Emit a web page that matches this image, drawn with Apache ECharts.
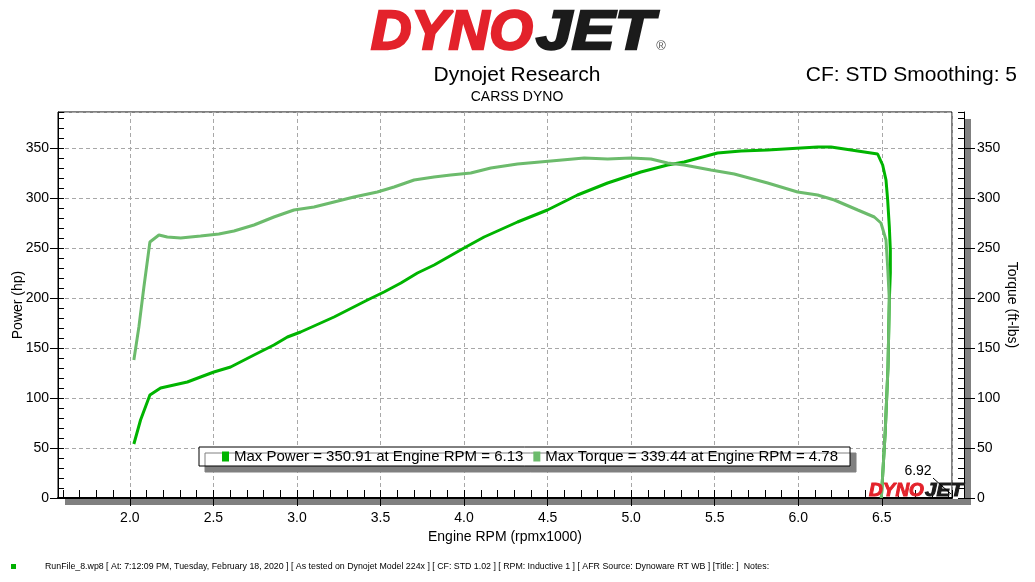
<!DOCTYPE html>
<html><head><meta charset="utf-8">
<script src="https://cdn.jsdelivr.net/npm/echarts@6/dist/echarts.min.js"></script>
<style>html,body{margin:0;padding:0;background:#fff;}#c{width:1035px;height:582px;}</style>
</head><body><div id="c"></div>
<script>
// ---- data ----
const rpmMin = 1.57, rpmMax = 6.92;
const yMax = 386;
const powerRpm = [2.024,2.064,2.120,2.184,2.344,2.423,2.503,2.603,2.743,2.862,2.943,3.022,3.222,3.422,3.521,3.622,3.721,3.821,4.000,4.120,4.320,4.499,4.679,4.859,5.058,5.218,5.317,5.517,5.657,5.817,6.016,6.116,6.196,6.316,6.475,6.505,6.525,6.535,6.545,6.551,6.551,6.545,6.537,6.520,6.497];
const powerHp  = [54,78,103,110,116,121,126,131,143,153,161,166,181,198,206,215,225,233,250,261,276,288,303,315,326,333,336,345,347,348,350,351,351,348,344,333,318,298,271,248,225,198,131,65,0];
const torqueRpm = [2.024,2.054,2.084,2.120,2.174,2.224,2.304,2.423,2.533,2.623,2.743,2.862,2.982,3.102,3.222,3.341,3.481,3.581,3.701,3.820,3.920,4.040,4.160,4.320,4.520,4.719,4.859,4.998,5.118,5.218,5.317,5.477,5.617,5.817,5.996,6.116,6.216,6.356,6.455,6.495,6.525,6.535,6.545,6.537,6.520,6.497];
const torqueFt  = [138,171,211,256,263,261,260,262,264,267,273,281,288,291,296,301,306,311,318,321,323,325,330,334,337,340,339,340,339,335,333,328,324,315,306,303,298,288,281,275,258,231,198,131,65,0];
const maxPower = 350.91, maxPowerRpm = 6.13;
const maxTorque = 339.44, maxTorqueRpm = 4.78;
const titleText = 'Dynojet Research';
const subTitleText = 'CARSS DYNO';
const cfText = 'CF: STD Smoothing: 5';
const footerText = 'RunFile_8.wp8 [ At: 7:12:09 PM, Tuesday, February 18, 2020 ] [ As tested on Dynojet Model 224x ] [ CF: STD 1.02 ] [ RPM: Inductive 1 ] [ AFR Source: Dynoware RT WB ] [Title: ]  Notes:';

// ---- chart ----
const F = 'Liberation Sans, Arial, sans-serif';
const POWER_C = '#00b400', TORQUE_C = '#6cbb6c';
const RED = '#e3222b', BLK = '#1b1b1b';
const zip = (a, b) => a.map((v, i) => [v, b[i]]);
const legendText = {
  Power: 'Max Power = ' + maxPower.toFixed(2) + ' at Engine RPM = ' + maxPowerRpm.toFixed(2),
  Torque: 'Max Torque = ' + maxTorque.toFixed(2) + ' at Engine RPM = ' + maxTorqueRpm.toFixed(2)
};
const dash = {color: '#a8a8a8', type: [4, 3], width: 1};
const chart = echarts.init(document.getElementById('c'), null, {renderer: 'canvas'});
chart.setOption({
  animation: false,
  backgroundColor: '#fff',
  textStyle: {fontFamily: F},
  grid: {left: 58, right: 83, top: 112, bottom: 84, show: true, borderColor: '#000', borderWidth: 1, backgroundColor: 'transparent', containLabel: false, outerBoundsMode: 'none'},
  legend: {
    left: 199, top: 447, orient: 'horizontal', icon: 'rect', itemWidth: 7, itemHeight: 10, itemGap: 10,
    padding: [2, 12, 2, 23], borderColor: '#000', borderWidth: 1, backgroundColor: '#fff',
    shadowColor: '#808080', shadowOffsetX: 6, shadowOffsetY: 6, shadowBlur: 0,
    selectedMode: false,
    textStyle: {fontSize: 15, color: '#000', fontFamily: F},
    formatter: n => legendText[n],
    data: ['Power', 'Torque']
  },
  xAxis: [
    {type: 'value', min: rpmMin, max: rpmMax, splitNumber: 10, position: 'bottom',
     axisLine: {onZero: false, lineStyle: {color: '#000', width: 2}},
     axisTick: {inside: false, length: 8, lineStyle: {color: '#000'}},
     axisLabel: {showMinLabel: false, showMaxLabel: false, formatter: v => v.toFixed(1), fontSize: 14, color: '#000', margin: 13, fontFamily: F},
     splitLine: {show: true, lineStyle: dash},
     name: 'Engine RPM (rpmx1000)', nameLocation: 'middle', nameGap: 31,
     nameTextStyle: {fontSize: 14, color: '#000', fontFamily: F}},
    {type: 'value', min: rpmMin, max: rpmMax, splitNumber: 50, position: 'bottom',
     axisLine: {show: false, onZero: false}, axisTick: {inside: true, length: 8, lineStyle: {color: '#000'}},
     axisLabel: {show: false}, splitLine: {show: false}}
  ],
  yAxis: [
    {type: 'value', min: 0, max: yMax, splitNumber: 8, position: 'left',
     axisLine: {show: true, onZero: false, lineStyle: {color: '#000'}},
     axisTick: {inside: false, length: 8, lineStyle: {color: '#000'}},
     axisLabel: {showMaxLabel: false, fontSize: 14, color: '#000', margin: 9, fontFamily: F},
     splitLine: {show: true, lineStyle: dash},
     name: 'Power (hp)', nameLocation: 'middle', nameGap: 33, nameMoveOverlap: false,
     nameTextStyle: {fontSize: 14, color: '#000', fontFamily: F}},
    {type: 'value', min: 0, max: yMax, splitNumber: 8, position: 'right', offset: 12,
     axisLine: {show: true, onZero: false, lineStyle: {color: '#000'}},
     axisTick: {inside: false, length: 11, lineStyle: {color: '#000'}},
     axisLabel: {showMaxLabel: false, fontSize: 14, color: '#000', margin: 13, fontFamily: F},
     splitLine: {show: false},
     name: 'Torque (ft-lbs)', nameLocation: 'middle', nameGap: 41, nameRotate: -90, nameMoveOverlap: false,
     nameTextStyle: {fontSize: 14, color: '#000', fontFamily: F}},
    {type: 'value', min: 0, max: yMax, splitNumber: 39, position: 'left',
     axisLine: {show: false, onZero: false}, axisTick: {inside: true, length: 6, lineStyle: {color: '#000'}},
     axisLabel: {show: false}, splitLine: {show: false}},
    {type: 'value', min: 0, max: yMax, splitNumber: 39, position: 'right', offset: 12,
     axisLine: {show: false, onZero: false}, axisTick: {inside: true, length: 6, lineStyle: {color: '#000'}},
     axisLabel: {show: false}, splitLine: {show: false}}
  ],
  series: [
    {name: 'Power', type: 'line', xAxisIndex: 0, yAxisIndex: 0, data: zip(powerRpm, powerHp),
     showSymbol: false, symbol: 'none', lineStyle: {color: POWER_C, width: 3}, itemStyle: {color: POWER_C}, z: 3},
    {name: 'Torque', type: 'line', xAxisIndex: 0, yAxisIndex: 1, data: zip(torqueRpm, torqueFt),
     showSymbol: false, symbol: 'none', lineStyle: {color: TORQUE_C, width: 3}, itemStyle: {color: TORQUE_C}, z: 4}
  ],
  graphic: [
    // shadows of the plot frame
    {type: 'rect', z: -10, silent: true, shape: {x: 65, y: 499, width: 906, height: 6}, style: {fill: '#808080'}},
    {type: 'rect', z: -10, silent: true, shape: {x: 965, y: 119, width: 6, height: 386}, style: {fill: '#808080'}},
    // big logo
    {type: 'text', x: 371, y: 34, silent: true, style: {text: 'DYNO', fill: RED, stroke: RED, lineWidth: 2.5, fontSize: 56, fontWeight: 900, fontStyle: 'italic', fontFamily: F, textAlign: 'left', textVerticalAlign: 'middle'}},
    {type: 'text', x: 536, y: 34, scaleX: 1.15, silent: true, style: {text: 'JET', fill: BLK, stroke: BLK, lineWidth: 2.5, fontSize: 56, fontWeight: 900, fontStyle: 'italic', fontFamily: F, textAlign: 'left', textVerticalAlign: 'middle'}},
    {type: 'text', x: 661, y: 46, silent: true, style: {text: '\u00ae', fill: '#555', fontSize: 13, fontFamily: F, textAlign: 'center', textVerticalAlign: 'middle'}},
    // titles
    {type: 'text', x: 517, y: 75, silent: true, style: {text: titleText, fill: '#000', fontSize: 21, fontFamily: F, textAlign: 'center', textVerticalAlign: 'middle'}},
    {type: 'text', x: 517, y: 97, silent: true, style: {text: subTitleText, fill: '#000', fontSize: 14, fontFamily: F, textAlign: 'center', textVerticalAlign: 'middle'}},
    {type: 'text', x: 1017, y: 75, silent: true, style: {text: cfText, fill: '#000', fontSize: 21, fontFamily: F, textAlign: 'right', textVerticalAlign: 'middle'}},
    // small logo in plot
    {type: 'text', x: 869, y: 491, z: 10, silent: true, style: {text: 'DYNO', fill: RED, stroke: RED, lineWidth: 1, fontSize: 19, fontWeight: 900, fontStyle: 'italic', fontFamily: F, textAlign: 'left', textVerticalAlign: 'middle'}},
    {type: 'text', x: 925, y: 491, z: 10, scaleX: 1.1, silent: true, style: {text: 'JET', fill: BLK, stroke: BLK, lineWidth: 1, fontSize: 19, fontWeight: 900, fontStyle: 'italic', fontFamily: F, textAlign: 'left', textVerticalAlign: 'middle'}},
    // max rpm marker
    {type: 'text', x: 918, y: 471, z: 10, silent: true, style: {text: rpmMax.toFixed(2), fill: '#000', fontSize: 14, fontFamily: F, textAlign: 'center', textVerticalAlign: 'middle'}},
    {type: 'line', z: 10, silent: true, shape: {x1: 933, y1: 478, x2: 951, y2: 494}, style: {stroke: '#000', lineWidth: 1}},
    // footer
    {type: 'rect', silent: true, shape: {x: 11, y: 564, width: 5, height: 5}, style: {fill: '#00b000'}},
    {type: 'text', x: 45, y: 567, silent: true, style: {text: footerText, fill: '#000', fontSize: 8.8, fontFamily: F, textAlign: 'left', textVerticalAlign: 'middle'}}
  ]
});
</script></body></html>
